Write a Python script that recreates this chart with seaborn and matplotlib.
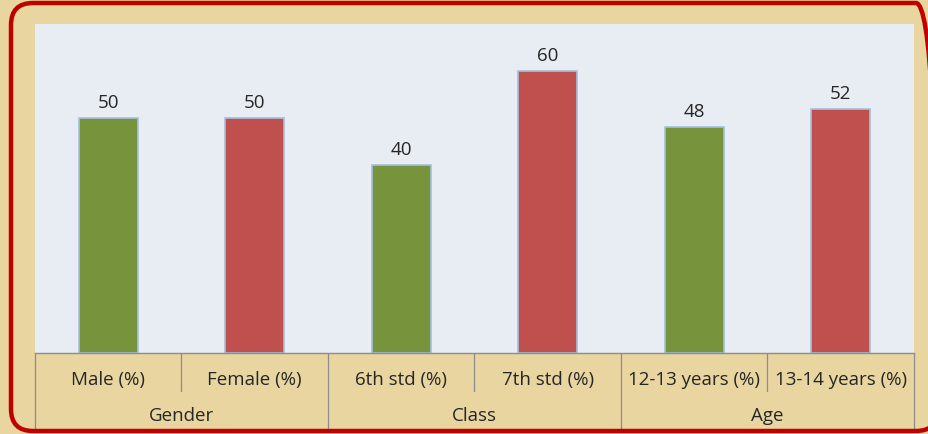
import matplotlib
matplotlib.use("Agg")
import matplotlib.pyplot as plt
import matplotlib.transforms as mtransforms
from matplotlib.patches import FancyBboxPatch
import seaborn as sns
import pandas as pd

categories = ["Male (%)", "Female (%)", "6th std (%)", "7th std (%)", "12-13 years (%)", "13-14 years (%)"]
values = [50, 50, 40, 60, 48, 52]
groups = ["Gender", "Class", "Age"]
group_sizes = [2, 2, 2]
bar_colors = ["#77933C", "#C0504D", "#77933C", "#C0504D", "#77933C", "#C0504D"]

sns.set_theme(style="white")
plt.rcParams["font.family"] = ["Open Sans", "DejaVu Sans"]

W, H = 929, 435
fig = plt.figure(figsize=(W / 100, H / 100), dpi=100)
fig.patch.set_facecolor("#E9D5A0")

# rounded red frame (pixel coordinates, origin bottom-left)
frame = FancyBboxPatch((11, 3), 938 - 11, 431 - 3,
                       boxstyle="round,pad=0,rounding_size=22",
                       transform=mtransforms.IdentityTransform(), facecolor="none",
                       edgecolor="#C00000", linewidth=3.2)
fig.patches.append(frame)

x0, x1, ytop, ybot = 35, 914, 25, 354
ax = fig.add_axes([x0 / W, (H - ybot) / H, (x1 - x0) / W, (ybot - ytop) / H])
ax.set_facecolor("#E8EDF3")

df = pd.DataFrame({"category": categories, "value": values})
sns.barplot(data=df, x="category", y="value", hue="category", palette=bar_colors,
            legend=False, width=0.4, edgecolor="#A7C0DE", linewidth=1.2, ax=ax,
            saturation=1)

ax.set_ylim(0, 70)
ax.set_xlim(-0.5, len(categories) - 0.5)
ax.set_xticks([])
ax.set_yticks([])
ax.set_xlabel("")
ax.set_ylabel("")
for s in ["top", "left", "right"]:
    ax.spines[s].set_visible(False)
ax.spines["bottom"].set_color("#8C8C8C")
ax.spines["bottom"].set_linewidth(1.0)

fs = 13.5
for i, v in enumerate(values):
    ax.annotate(f"{v}", (i, v), xytext=(0, 5), textcoords="offset points",
                ha="center", va="bottom", fontsize=fs, color="#262626")

axh = ybot - ytop
trans = mtransforms.blended_transform_factory(ax.transData, ax.transAxes)
row1 = -26 / axh
row2 = -62 / axh
short_end = -38 / axh
long_end = -76 / axh

for i, c in enumerate(categories):
    ax.text(i, row1, c, transform=trans, ha="center", va="center",
            fontsize=fs, color="#262626")

# separators
bounds = [0]
for g in group_sizes:
    bounds.append(bounds[-1] + g)
group_edges = set(b - 0.5 for b in bounds)
for k in range(len(categories) + 1):
    xb = k - 0.5
    end = long_end if xb in group_edges else short_end
    ax.plot([xb, xb], [0, end], transform=trans, color="#8C8C8C",
            linewidth=0.9, clip_on=False)

for gi, g in enumerate(groups):
    center = (bounds[gi] + bounds[gi + 1] - 1) / 2
    ax.text(center, row2, g, transform=trans, ha="center", va="center",
            fontsize=fs, color="#262626")

fig.savefig("out.png", dpi=100)
